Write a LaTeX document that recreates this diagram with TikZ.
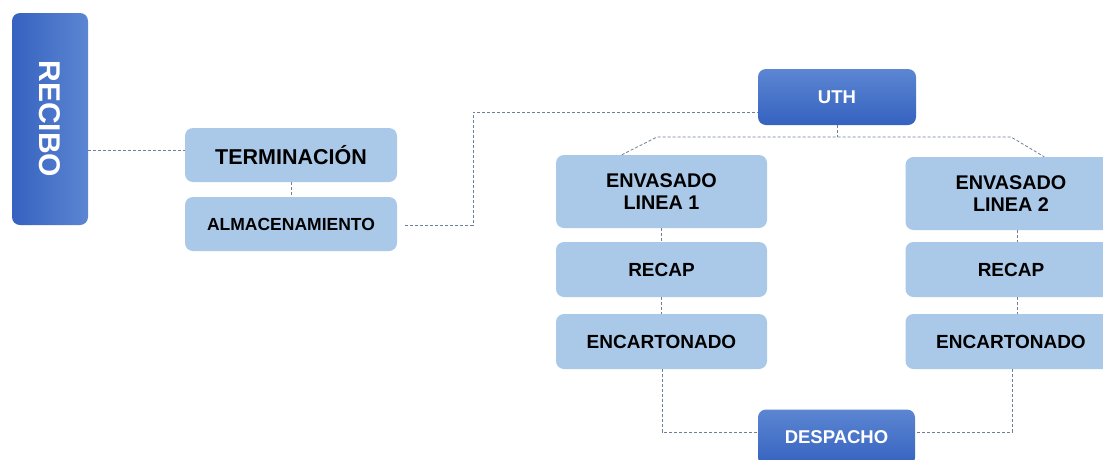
\documentclass[tikz,border=0pt]{standalone}
\usepackage{fontspec}
\setmainfont{Liberation Sans}
\usetikzlibrary{calc}
\definecolor{lightbox}{RGB}{170,201,233}
\definecolor{darkA}{RGB}{53,98,192}
\definecolor{darkB}{RGB}{92,134,210}
\definecolor{conncol}{RGB}{110,128,152}
\tikzset{
  lbox/.style={rounded corners=8pt, fill=lightbox, inner sep=0pt, align=center, font=\bfseries\fontsize{19}{23}\selectfont, text=black},
  dboxv/.style={rounded corners=8pt, top color=darkB, bottom color=darkA, inner sep=0pt, align=center, font=\bfseries\fontsize{18.5}{22}\selectfont, text=white},
  dboxh/.style={rounded corners=8pt, left color=darkA, right color=darkB, inner sep=0pt, align=center, text=white},
  conn/.style={draw=conncol, line width=0.8pt, dash pattern=on 3pt off 2pt}
}
\begin{document}
\begin{tikzpicture}[x=1pt,y=-1pt]
\clip (0,0) rectangle (1103,459);
\fill[white] (0,0) rectangle (1103,459);
% nodes
\node[dboxh, minimum width=76pt, minimum height=212pt] (RECIBO) at (50,119) {};
\node[rotate=-90, text=white, font=\bfseries\fontsize{30}{30}\selectfont] (RECIBOt) at (RECIBO.center) {RECIBO};
\node[lbox, minimum width=212pt, minimum height=54pt, font=\bfseries\fontsize{21.5}{24}\selectfont] (TERM) at (291,155) {TERMINACIÓN};
\node[lbox, minimum width=212pt, minimum height=54pt, font=\bfseries\fontsize{17.5}{20}\selectfont] (ALM) at (291,224) {ALMACENAMIENTO};
\node[dboxv, minimum width=158pt, minimum height=56pt] (UTH) at (837,97) {UTH};
\node[lbox, minimum width=211pt, minimum height=73pt, font=\bfseries\fontsize{19.8}{22.7}\selectfont] (ENV1) at (661.5,191.5) {ENVASADO\\LINEA 1};
\node[lbox, minimum width=211pt, minimum height=73pt, font=\bfseries\fontsize{19.8}{22.7}\selectfont] (ENV2) at (1011,193.5) {ENVASADO\\LINEA 2};
\node[lbox, minimum width=211pt, minimum height=55pt] (REC1) at (661.5,269.5) {RECAP};
\node[lbox, minimum width=211pt, minimum height=55pt] (REC2) at (1011,269.5) {RECAP};
\node[lbox, minimum width=211pt, minimum height=55pt] (ENC1) at (661.5,341.5) {ENCARTONADO};
\node[lbox, minimum width=211pt, minimum height=55pt] (ENC2) at (1011,341.5) {ENCARTONADO};
\node[dboxv, minimum width=157pt, minimum height=56pt] (DESP) at (836.5,437.5) {DESPACHO};
% connectors
\draw[conn] (RECIBO.east |- 0,150) -- (TERM.west |- 0,150);
\draw[conn] (TERM.south) -- (ALM.north);
\coordinate (a1) at ($(ALM.east)+(8,1)$);
\coordinate (a2) at (473,225);
\coordinate (a3) at (473,112);
\draw[conn] (a1) -- (a2) -- (a3) -- (UTH.west |- a3);
\coordinate (u1) at (837,137);
\coordinate (uL) at (657,137);
\coordinate (uR) at (1011,137);
\coordinate (e1) at ($(ENV1.north west)+(66,0)$);
\coordinate (e2) at ($(ENV2.north west)+(139,0)$);
\draw[conn] (UTH.south) -- (u1);
\draw[conn] (e1) -- (uL) -- (uR) -- (e2);
\draw[conn] (ENV1.south) -- (REC1.north);
\draw[conn] (REC1.south) -- (ENC1.north);
\draw[conn] (ENV2.south -| 1017,0) -- (REC2.north -| 1017,0);
\draw[conn] (REC2.south -| 1017,0) -- (ENC2.north -| 1017,0);
\coordinate (d1) at (662,432);
\coordinate (d2) at (1012,432);
\draw[conn] (ENC1.south -| d1) -- (d1) -- (DESP.west |- d1);
\draw[conn] (ENC2.south -| d2) -- (d2) -- (DESP.east |- d2);
\end{tikzpicture}
\end{document}
